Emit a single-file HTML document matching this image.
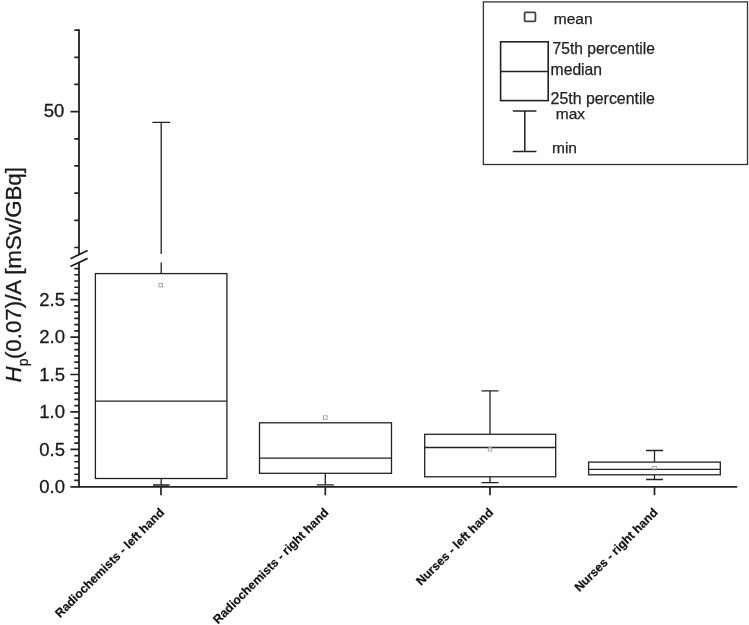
<!DOCTYPE html>
<html lang="en"><head><meta charset="utf-8"><title>Box plot</title>
<style>html,body{margin:0;padding:0;background:#fff;}body{width:749px;height:625px;position:relative;overflow:hidden;}</style>
</head><body>
<svg width="749" height="625" viewBox="0 0 749 625" style="display:block;position:absolute;left:0;top:0">
<rect x="0" y="0" width="749" height="625" fill="#fff"/>
<g stroke="#222" fill="none" stroke-linecap="butt">
<path d="M79 29.3V254.6M79 262.6V487.6" stroke-width="1.8"/>
<path d="M70.4 486.8H737.2" stroke-width="1.7"/>
<path d="M74.3 30.1H79M74.3 57.3H79M74.3 84.4H79M70.4 111.6H79M74.3 138.8H79M74.3 165.9H79M74.3 193.1H79M74.3 220.3H79M74.3 247.5H79" stroke-width="1.7"/>
<path d="M74.3 480.47H79M74.3 474.23H79M74.3 468.00H79M74.3 461.77H79M74.3 455.53H79M70.4 449.30H79M74.3 443.07H79M74.3 436.83H79M74.3 430.60H79M74.3 424.37H79M74.3 418.13H79M70.4 411.90H79M74.3 405.67H79M74.3 399.43H79M74.3 393.20H79M74.3 386.97H79M74.3 380.73H79M70.4 374.50H79M74.3 368.27H79M74.3 362.03H79M74.3 355.80H79M74.3 349.57H79M74.3 343.33H79M70.4 337.10H79M74.3 330.87H79M74.3 324.63H79M74.3 318.40H79M74.3 312.17H79M74.3 305.93H79M70.4 299.70H79M74.3 293.47H79M74.3 287.23H79M74.3 281.00H79M74.3 274.77H79M74.3 268.53H79" stroke-width="1.7"/>
<path d="M70.4 258.7L87.6 250.5M70.4 266.5L87.6 258.4" stroke-width="1.8"/>
<path d="M161 486V495.2M325.3 486V495.2M490 486V495.2M654.5 486V495.2" stroke-width="1.7"/>
</g>
<g stroke="#222" fill="none" stroke-width="1.3">
<rect x="95.4" y="273.6" width="131.5" height="204.9"/>
<path d="M95.4 401.2H226.9M161.2 122.3V254.1M161.2 262.6V273.6M152.4 122.3H170.2M161.2 478.5V485M153 485H169.6"/>
<rect x="259.5" y="422.8" width="132.0" height="50.5"/><path d="M259.5 458.1H391.5M325.3 473.3V484.8M316.8 484.8H333.8"/>
<rect x="424.7" y="434.3" width="131.0" height="42.5"/><path d="M424.7 447.5H555.7M490 434.3V390.8M481.5 390.8H498.5M490 476.8V482.7M481.5 482.7H498.5"/>
<rect x="588.6" y="462.1" width="131.7" height="12.7"/><path d="M588.6 469.4H720.3M654.5 462.1V450.5M646.0 450.5H663.0M654.5 474.8V479.5M646.0 479.5H663.0"/>
</g>
<g stroke="#959595" fill="none" stroke-width="0.8">
<rect x="159.0" y="283.4" width="3.6" height="3.6"/>
<rect x="323.5" y="415.8" width="3.6" height="3.6"/>
<rect x="488.2" y="447.4" width="3.6" height="3.6"/>
<rect x="652.7" y="466.3" width="3.6" height="3.6"/>
</g>
<g stroke="#222" fill="none">
<rect x="483.4" y="1.9" width="264.1" height="162.6" stroke="#333" stroke-width="1.3"/>
<rect x="500.6" y="41.8" width="47.6" height="58.8" stroke-width="1.6"/>
<path d="M500.6 71.6H548.2M524.8 111V151.6M512.8 111H536.4M512.8 151.6H536.4" stroke-width="1.5"/>
<rect x="524.6" y="12.4" width="10.8" height="9" rx="0.8" stroke="#444" stroke-width="1.8"/>
</g>
<g font-family="Liberation Sans, Arial, sans-serif" fill="#1a1a1a">
<g font-size="18.5" text-anchor="end" stroke="#1a1a1a" stroke-width="0.3">
<text x="64.3" y="117.4">50</text>
<text x="65" y="305.9">2.5</text>
<text x="65" y="343.3">2.0</text>
<text x="65" y="380.7">1.5</text>
<text x="65" y="418.1">1.0</text>
<text x="65" y="455.5">0.5</text>
<text x="65" y="492.9">0.0</text>
</g>
<text transform="translate(21 382.4) rotate(-90)" font-size="22.3" stroke="#1a1a1a" stroke-width="0.3"><tspan font-style="italic">H</tspan><tspan font-size="14" dy="7.4">p</tspan><tspan dy="-7.4" dx="-0.6">(0.07)/A [mSv/GBq]</tspan></text>
<g font-size="15.5" fill="#222" stroke="#222" stroke-width="0.25">
<text x="553.8" y="24.2" font-size="15.5">mean</text>
<text x="552.6" y="54" font-size="15.6">75th percentile</text>
<text x="550.6" y="75.2" font-size="15.7">median</text>
<text x="550.6" y="103.8" font-size="15.9">25th percentile</text>
<text x="555.8" y="119.2" font-size="15.5">max</text>
<text x="552" y="152.7" font-size="15.5">min</text>
</g>
<g font-size="12.2" font-weight="bold" text-anchor="end" fill="#111" stroke="#111" stroke-width="0.2">
<text transform="translate(164.9 513.3) rotate(-45)">Radiochemists - left hand</text>
<text transform="translate(329.2 513.3) rotate(-45)">Radiochemists - right hand</text>
<text transform="translate(493.9 513.3) rotate(-45)">Nurses - left hand</text>
<text transform="translate(658.4 513.3) rotate(-45)">Nurses - right hand</text>
</g>
</g>
</svg>
</body></html>
